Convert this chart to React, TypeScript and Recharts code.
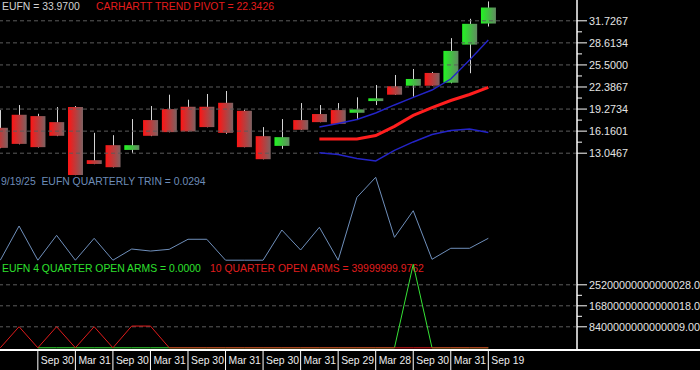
import React from 'react';
import { ComposedChart, Line, Bar, XAxis, YAxis, ReferenceLine } from 'recharts';

const FONT = '"Liberation Sans", Arial, sans-serif';
const FS = 10.4;
const AXIS_FS = 10.8;

// Quarterly dates, EUFN
const dates = ['Mar 29', 'Jun 28', 'Sep 30', 'Dec 31', 'Mar 31', 'Jun 30', 'Sep 30', 'Dec 31', 'Mar 31', 'Jun 30', 'Sep 30', 'Dec 31', 'Mar 31', 'Jun 30', 'Sep 30', 'Dec 30', 'Mar 31', 'Jun 30', 'Sep 29', 'Dec 29', 'Mar 28', 'Jun 28', 'Sep 30', 'Dec 31', 'Mar 31', 'Jun 30', 'Sep 19'];

const openP = [16.63, 18.47, 18.28, 17.43, 19.56, 12.06, 14.18, 13.51, 17.72, 19.27, 19.6, 19.6, 20.16, 19.03, 15.45, 14.08, 17.72, 18.57, 19.13, 18.75, 20.4, 22.49, 22.57, 24.37, 22.99, 28.37, 31.34];
const highP = [19.13, 19.84, 18.61, 19.56, 19.7, 15.92, 15.59, 17.86, 19.7, 21.3, 20.59, 21.4, 21.82, 19.18, 16.73, 17.86, 20.12, 19.84, 20.12, 20.93, 22.67, 24.08, 24.93, 24.51, 29.28, 32.01, 34.46];
const lowP = [13.75, 14.3, 13.85, 15.45, 9.95, 11.5, 11.04, 13.09, 15.45, 16.0, 16.1, 16.7, 15.78, 13.88, 12.18, 13.66, 16.33, 17.41, 17.17, 17.72, 19.84, 21.28, 21.02, 22.55, 22.9, 24.33, 30.92];
const closeP = [13.8, 14.36, 13.9, 15.5, 9.97, 11.53, 11.07, 14.18, 15.5, 16.02, 16.12, 16.73, 15.92, 13.9, 12.2, 15.31, 16.35, 17.43, 17.19, 19.23, 20.79, 21.3, 23.52, 22.57, 27.48, 31.3, 33.6];

const N = null;
const pivot = [N, N, N, N, N, N, N, N, N, N, N, N, N, N, N, N, N, 15.05, 15.05, 15.05, 15.54, 16.84, 18.37, 19.49, 20.48, 21.33, 22.34];
const upperBand = [N, N, N, N, N, N, N, N, N, N, N, N, N, N, N, N, N, 16.74, 17.24, 17.8, 18.72, 19.85, 20.91, 21.96, 23.51, 26.19, 29.01];
const lowerBand = [N, N, N, N, N, N, N, N, N, N, N, N, N, N, N, N, N, 13.12, 12.86, 12.3, 11.95, 13.43, 14.63, 15.68, 16.25, 16.46, 15.97];

const trin = [0, 0.0459, 0, 0.0334, 0, 0.0294, 0, 0.015, 0.0123, 0.0146, 0.0281, 0.0281, 0, 0, 0, 0.0405, 0.0137, 0.0442, 0, 0.0844, 0.1113, 0.0307, 0.0664, 0.0012, 0.016, 0.016, 0.0294];

const arms4 = [N, N, 0, 0, 0, 0, 0, 0, 0, 0, 0, 0, 0, 0, 0, 0, 0, 0, 0, 0, 0, 0, 3.34e16, 0, 0, 0, 0];
const arms10 = [0, 8.44e15, 0, 8.44e15, 0, 8.44e15, 0, 8.7e15, 8.7e15, 0, 0, 0, 0, 0, 0, 0, 0, 0, 0, 0, 0, 0, 0, 0, 0, 0, 0];

const priceTicks = [13.0467, 16.1601, 19.2734, 22.3867, 25.5, 28.6134, 31.7267];
const armsTicks = [8.4e15, 1.68e16, 2.52e16];
const armsTickLabels = ['8400000000000009.00', '16800000000000018.00', '25200000000000028.00'];
const xTicks = [2, 4, 6, 8, 10, 12, 14, 16, 18, 20, 22, 24, 26];

const X_DOMAIN: [number, number] = [-0.016, 30.725];
const PRICE_DOMAIN: [number, number] = [-14.578, 34.661];
const TRIN_DOMAIN: [number, number] = [-0.11919, 0.34926];
const ARMS_DOMAIN: [number, number] = [-4.8e14, 1.3912e17];

const rows = dates.map((d, i) => ({
  i,
  date: d,
  open: openP[i],
  high: highP[i],
  low: lowP[i],
  close: closeP[i],
  pivot: pivot[i],
  upper: upperBand[i],
  lower: lowerBand[i],
  trin: trin[i],
  arms4: arms4[i],
  arms10: arms10[i],
}));

const midpoints = (arr: number[]) => arr.slice(1).map((v, k) => (v + arr[k]) / 2);
const priceAllTicks = [...priceTicks, ...midpoints(priceTicks)].sort((a, b) => a - b);
const armsAllTicks = [...armsTicks, ...midpoints(armsTicks)].sort((a, b) => a - b);

function Candle(props: any) {
  const { x, y, width, height, payload } = props;
  if (payload == null || x == null || y == null) return null;
  const top = Math.min(y, y + height);
  const h = Math.abs(height);
  const { open, high, low, close } = payload;
  const k = h / (high - low);
  const up = close >= open;
  const bTop = top + (high - Math.max(open, close)) * k;
  const bBot = top + (high - Math.min(open, close)) * k;
  const cx = Math.round(x + width / 2) + 0.5;
  return (
    <g>
      <line x1={cx} x2={cx} y1={top} y2={top + h} stroke="#d4d4d4" strokeWidth={1} />
      <rect x={x} y={bTop} width={width} height={Math.max(1, bBot - bTop)} fill={up ? 'url(#gUp)' : 'url(#gDown)'} />
    </g>
  );
}

function makeRightTick(majors: number[], labelOf: (v: number) => string) {
  return (p: any) => {
    const { x, y, payload } = p;
    const v = payload.value;
    const idx = majors.findIndex((m) => Math.abs(m - v) < Math.abs(m) * 1e-9 + 1e-9);
    const major = idx >= 0;
    const ax = x - 12;
    return (
      <g>
        <line x1={ax} x2={ax + (major ? 10 : 5)} y1={y} y2={y} stroke="#ffffff" strokeWidth={1} />
        {major && (
          <text x={x} y={y} dy={3.8} textAnchor="start" fill="#e4e4e4" fontSize={AXIS_FS} fontFamily={FONT}>
            {labelOf(idx)}
          </text>
        )}
      </g>
    );
  };
}

const PriceTick = makeRightTick(priceTicks, (k) => priceTicks[k].toFixed(4));
const ArmsTick = makeRightTick(armsTicks, (k) => armsTickLabels[k]);

function DateTick(p: any) {
  const { x, y, payload } = p;
  return (
    <g>
      <line x1={x} x2={x} y1={y} y2={y + 21} stroke="#ffffff" strokeWidth={1} />
      <text x={x + 3} y={y + 14.8} fill="#ececec" fontSize={FS} fontFamily={FONT} textAnchor="start">
        {dates[payload.value]}
      </text>
    </g>
  );
}

const layer: React.CSSProperties = { position: 'absolute', left: 0, top: 0 };
const grid = { stroke: '#5c5c5c', strokeDasharray: '4 3', strokeWidth: 1 };

export default function App() {
  return (
    <div style={{ position: 'fixed', left: 0, top: 0, width: 700, height: 370, background: '#000', overflow: 'hidden', fontFamily: FONT }}>
      <div style={layer}>
        <ComposedChart width={700} height={370} data={rows} margin={{ top: 0, right: 0, bottom: 21, left: 0 }}>
          <defs>
            <linearGradient id="gDown" x1="0" y1="0" x2="1" y2="0">
              <stop offset="0%" stopColor="#ff1414" />
              <stop offset="100%" stopColor="#7c6262" />
            </linearGradient>
            <linearGradient id="gUp" x1="0" y1="0" x2="1" y2="0">
              <stop offset="0%" stopColor="#22f522" />
              <stop offset="100%" stopColor="#628a62" />
            </linearGradient>
          </defs>
          <XAxis dataKey="i" type="number" domain={X_DOMAIN} allowDataOverflow hide ticks={xTicks} />
          <YAxis
            orientation="right"
            type="number"
            width={123}
            domain={PRICE_DOMAIN}
            allowDataOverflow
            ticks={priceAllTicks}
            interval={0}
            tickLine={false}
            tickSize={10}
            tickMargin={2}
            axisLine={{ stroke: '#ffffff', strokeWidth: 1 }}
            tick={PriceTick}
          />
          {priceTicks.map((v) => (
            <ReferenceLine key={v} y={v} {...grid} />
          ))}
          <Bar dataKey={(d: any) => [d.low, d.high]} barSize={15} shape={Candle} isAnimationActive={false} />
          <Line dataKey="upper" stroke="#2424c8" strokeWidth={1.4} dot={false} activeDot={false} isAnimationActive={false} />
          <Line dataKey="lower" stroke="#2424c8" strokeWidth={1.4} dot={false} activeDot={false} isAnimationActive={false} />
          <Line dataKey="pivot" stroke="#ff1e1e" strokeWidth={3} dot={false} activeDot={false} isAnimationActive={false} />
        </ComposedChart>
      </div>
      <div style={layer}>
        <ComposedChart width={700} height={370} data={rows} margin={{ top: 0, right: 123, bottom: 21, left: 0 }}>
          <XAxis dataKey="i" type="number" domain={X_DOMAIN} allowDataOverflow hide ticks={xTicks} />
          <YAxis type="number" hide domain={TRIN_DOMAIN} allowDataOverflow />
          <Line dataKey="trin" stroke="#6f8fbb" strokeWidth={1} dot={false} activeDot={false} isAnimationActive={false} />
        </ComposedChart>
      </div>
      <svg width={700} height={370} style={layer}>
        <g fontFamily={FONT} fontSize={FS}>
          <text x={2} y={10} fill="#d2d2d2">EUFN = 33.9700</text>
          <text x={96} y={10} fill="#e41c1c">CARHARTT TREND PIVOT = 22.3426</text>
          <text x={1} y={185} fill="#6d8cb8" style={{ whiteSpace: 'pre' }}>{'9/19/25  EUFN QUARTERLY TRIN = 0.0294'}</text>
          <text x={2} y={272} fill="#2ee02e">EUFN 4 QUARTER OPEN ARMS = 0.0000</text>
          <text x={210} y={272} fill="#e01e1e">10 QUARTER OPEN ARMS = 39999999.9762</text>
        </g>
      </svg>
      <div style={layer}>
        <ComposedChart width={700} height={370} data={rows} margin={{ top: 0, right: 0, bottom: 0, left: 0 }}>
          <XAxis
            dataKey="i"
            type="number"
            domain={X_DOMAIN}
            allowDataOverflow
            ticks={xTicks}
            interval={0}
            height={21}
            tickSize={0}
            tickMargin={0}
            tickLine={false}
            axisLine={false}
            tick={DateTick}
          />
          <YAxis
            orientation="right"
            type="number"
            width={123}
            domain={ARMS_DOMAIN}
            allowDataOverflow
            ticks={armsAllTicks}
            interval={0}
            tickLine={false}
            tickSize={10}
            tickMargin={2}
            axisLine={{ stroke: '#ffffff', strokeWidth: 1 }}
            tick={ArmsTick}
          />
          {armsTicks.map((v) => (
            <ReferenceLine key={v} y={v} {...grid} />
          ))}
          <Line dataKey="arms4" stroke="#36e236" strokeWidth={1} dot={false} activeDot={false} isAnimationActive={false} />
          <Line dataKey="arms10" stroke="#e01c1c" strokeWidth={1} dot={false} activeDot={false} isAnimationActive={false} />
        </ComposedChart>
      </div>
      <div style={{ position: 'absolute', left: 0, top: 349, width: 700, height: 2, background: '#ffffff' }} />
    </div>
  );
}
